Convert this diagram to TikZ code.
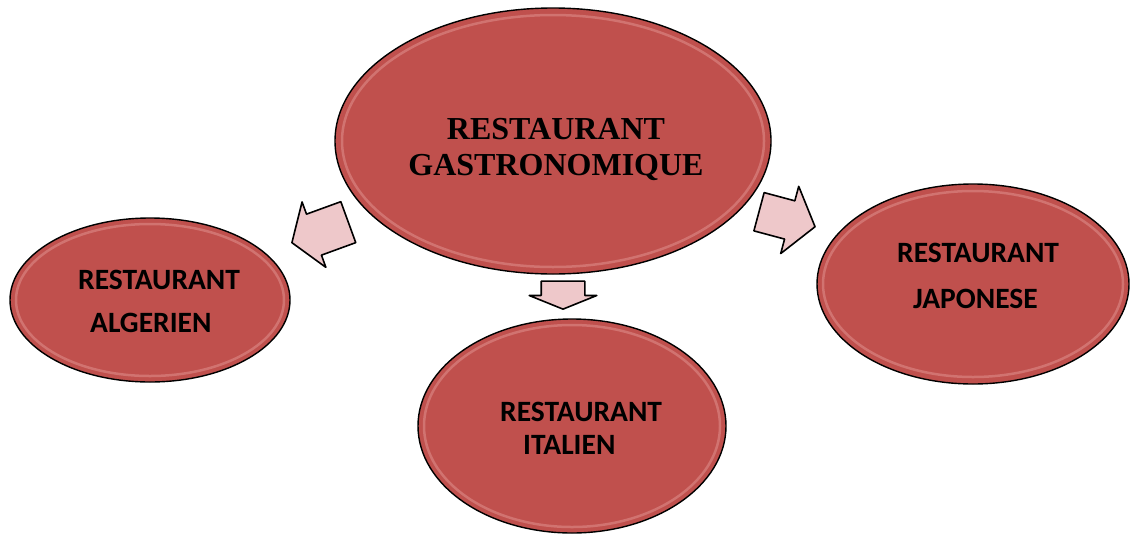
\documentclass[tikz,border=0pt]{standalone}
\usepackage{fontspec}
\setmainfont{Liberation Serif}
\newfontfamily\calib{Carlito}
\usetikzlibrary{shapes.geometric,shapes.arrows}
\definecolor{ovalred}{RGB}{192,80,77}
\definecolor{ovalrim}{RGB}{226,150,148}
\definecolor{arrowpink}{RGB}{238,200,202}
\begin{document}
\begin{tikzpicture}[x=1pt,y=-1pt,
  oval/.style={ellipse, draw=black, line width=1.4pt, fill=ovalred, inner sep=0pt},
  rim/.style={ovalrim, line width=2.5pt, opacity=0.5},
  blockarrow/.style={single arrow, draw=black, line width=1.6pt, fill=arrowpink,
    inner xsep=0pt, line join=round},
  sertext/.style={font=\bfseries\fontsize{32}{36}\selectfont, align=center, inner sep=0pt},
  caltext/.style={inner sep=0pt, align=left, anchor=base west}]
\useasboundingbox (0,0) rectangle (1131,536);
% ovals
\node[oval, minimum width=436pt, minimum height=266pt] (c) at (553,141) {};
\draw[rim] (553,141) ellipse [x radius=211pt, y radius=126pt];
\node[oval, minimum width=280pt, minimum height=164pt] (l) at (150,300) {};
\draw[rim] (150,300) ellipse [x radius=134pt, y radius=76pt];
\node[oval, minimum width=308pt, minimum height=214pt] (b) at (572,426) {};
\draw[rim] (572,426) ellipse [x radius=148pt, y radius=101pt];
\node[oval, minimum width=312pt, minimum height=200pt] (r) at (973,284) {};
\draw[rim] (973,284) ellipse [x radius=150pt, y radius=93pt];
% texts
\node[sertext] (ct) at (556,149) {RESTAURANT\\GASTRONOMIQUE};
\node[caltext, font=\calib\bfseries\fontsize{29.5}{43}\selectfont] (lt) at (78,332)
  {RESTAURANT\\\hspace*{12pt}ALGERIEN};
\node[caltext, font=\calib\bfseries\fontsize{29.5}{46}\selectfont] (rt) at (897,308)
  {RESTAURANT\\\hspace*{16pt}JAPONESE};
\node[caltext, font=\calib\bfseries\fontsize{29.5}{33}\selectfont] (bt) at (500,454)
  {RESTAURANT\\\hspace*{23pt}ITALIEN};
% block arrows
\coordinate (ltip) at (291,243);
\coordinate (rtip) at (816,227);
\coordinate (btip) at (563,310);
\node[blockarrow, inner ysep=21pt, single arrow head extend=13pt, single arrow tip angle=112,
  minimum height=60pt, rotate=200, anchor=tip] (la) at (ltip) {};
\node[blockarrow, inner ysep=19pt, single arrow head extend=15pt, single arrow tip angle=106,
  minimum height=58pt, rotate=-15, anchor=tip] (ra) at (rtip) {};
\node[blockarrow, inner ysep=21pt, single arrow head extend=12pt, single arrow tip angle=136,
  minimum height=28pt, rotate=-90, anchor=tip] (ba) at (btip) {};
\end{tikzpicture}
\end{document}
